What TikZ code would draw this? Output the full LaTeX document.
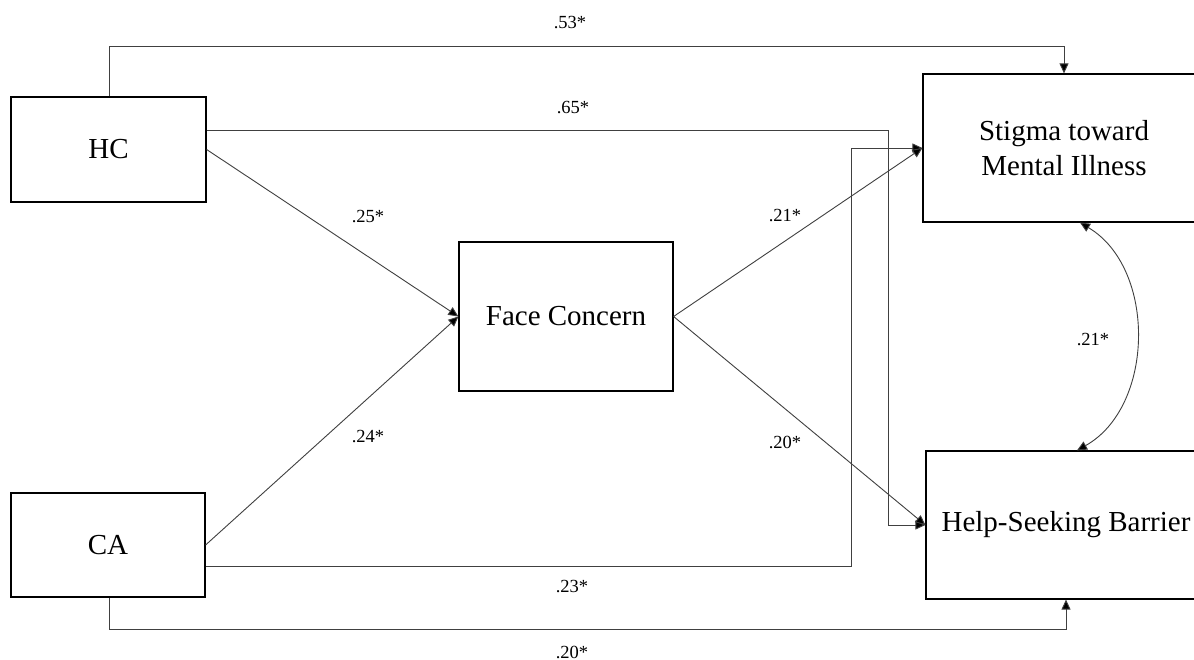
\documentclass[tikz,border=0pt]{standalone}
\usepackage{fontspec}
\setmainfont{Liberation Serif}
\usetikzlibrary{arrows.meta,calc}
\tikzset{
  var/.style={draw=black, line width=1.2pt, fill=white, inner sep=0pt, font=\fontsize{29}{35}\selectfont, align=center},
  conn/.style={draw=black!75, line width=0.9pt},
  tip/.style={arrows={-{Triangle[length=10pt,width=9pt,fill=black]}}},
  arr/.style={conn, tip},
  arrboth/.style={conn, {Triangle[length=10pt,width=9pt,fill=black]}-{Triangle[length=10pt,width=9pt,fill=black]}},
  coef/.style={font=\fontsize{18.5}{22}\selectfont, inner sep=0pt}
}
\begin{document}
\begin{tikzpicture}[x=1pt,y=-1pt]
\useasboundingbox (0,0) rectangle (1194,660);
\fill[white] (0,0) rectangle (1194,660);
% nodes (the two right-hand boxes run past the right edge of the picture)
\node[var, minimum width=195pt, minimum height=105pt] (HC) at (108.5,149.5) {HC};
\node[var, minimum width=194pt, minimum height=104pt] (CA) at (108,545) {CA};
\node[var, minimum width=214pt, minimum height=149pt] (FC) at (566,316.5) {Face Concern};
\node[var, minimum width=282pt, minimum height=148pt] (ST) at (1064,148) {Stigma toward\\Mental Illness};
\node[var, minimum width=280pt, minimum height=148pt] (HS) at (1066,525) {Help-Seeking Barrier};
% bend coordinates
\coordinate (b53) at (109,46);
\coordinate (b65) at (888,130);
\coordinate (b23) at (851,566);
\coordinate (b20) at (109,629);
% connectors
\draw[arr] (HC.north -| b53) -- (b53) -| (ST.north);
\draw[arr] ([yshift=19.5pt]HC.east) -- (b65) |- (HS.west);
\draw[arr] ([yshift=-21pt]CA.east) -- (b23) |- (ST.west);
\draw[arr] (CA.south -| b20) -- (b20) -| (HS.south);
\draw[arr] (HC.east) -- (FC.west);
\draw[arr] (CA.east) -- (FC.west);
\draw[arr] (FC.east) -- (ST.west);
\draw[arr] (FC.east) -- (HS.west);
\draw[arrboth] ([xshift=16pt]ST.south) to[bend left=60] ([xshift=11pt]HS.north);
% coefficients
\node[coef] (l53) at (570,23) {.53*};
\node[coef] (l65) at (573,108) {.65*};
\node[coef] (l25) at (368,217) {.25*};
\node[coef] (l24) at (368,437) {.24*};
\node[coef] (l21a) at (785,216) {.21*};
\node[coef] (l20a) at (785,442) {.20*};
\node[coef] (l21b) at (1093,340) {.21*};
\node[coef] (l23) at (572,587) {.23*};
\node[coef] (l20b) at (572,652) {.20*};
\end{tikzpicture}
\end{document}
